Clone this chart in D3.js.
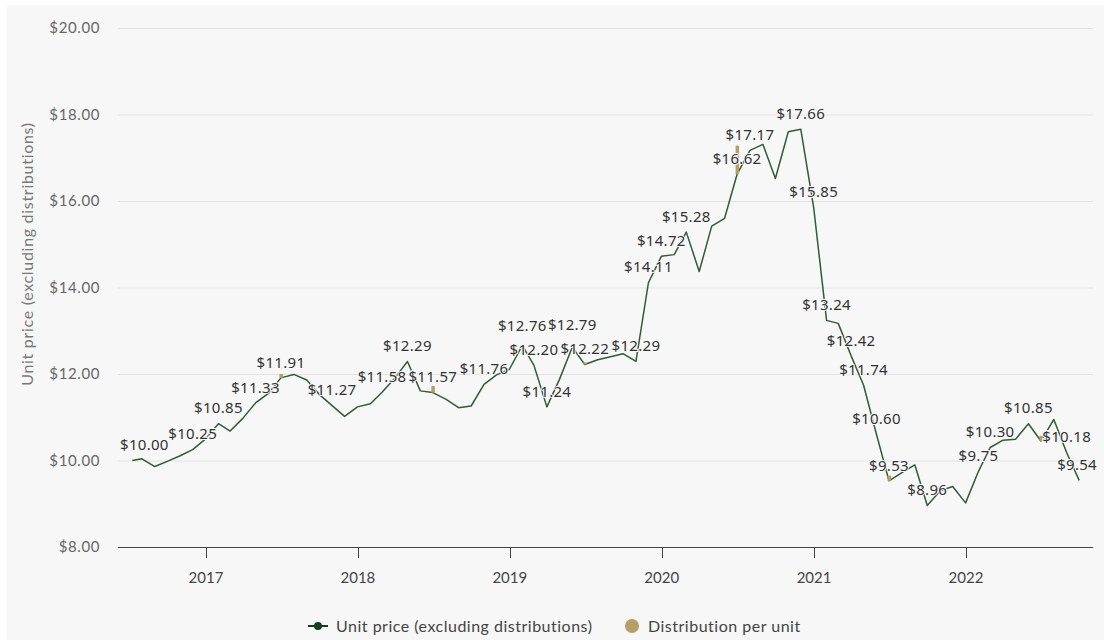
<!DOCTYPE html>
<html>
<head>
<meta charset="utf-8">
<script src="https://cdn.jsdelivr.net/npm/d3@7/dist/d3.min.js"></script>
<style>
  body { margin: 0; background: #fff; }
  svg { display: block; }
</style>
</head>
<body>
<div id="chart"></div>
<script>
// unit price, month end (first point is the inception date)
var priceDates = ["2016-07-08","2016-07-31","2016-08-31","2016-09-30","2016-10-31","2016-11-30","2016-12-31",
  "2017-01-31","2017-02-28","2017-03-31","2017-04-30","2017-05-31","2017-06-30","2017-07-31","2017-08-31","2017-09-30","2017-10-31","2017-11-30","2017-12-31",
  "2018-01-31","2018-02-28","2018-03-31","2018-04-30","2018-05-31","2018-06-30","2018-07-31","2018-08-31","2018-09-30","2018-10-31","2018-11-30","2018-12-31",
  "2019-01-31","2019-02-28","2019-03-31","2019-04-30","2019-05-31","2019-06-30","2019-07-31","2019-08-31","2019-09-30","2019-10-31","2019-11-30","2019-12-31",
  "2020-01-31","2020-02-29","2020-03-31","2020-04-30","2020-05-31","2020-06-30","2020-07-31","2020-08-31","2020-09-30","2020-10-31","2020-11-30","2020-12-31",
  "2021-01-31","2021-02-28","2021-03-31","2021-04-30","2021-05-31","2021-06-30","2021-07-31","2021-08-31","2021-09-30","2021-10-31","2021-11-30","2021-12-31",
  "2022-01-31","2022-02-28","2022-03-31","2022-04-30","2022-05-31","2022-06-30","2022-07-31","2022-08-31","2022-09-30"];
var priceValues = [10.00,10.04,9.86,9.98,10.11,10.25,10.50,
  10.85,10.68,10.98,11.33,11.55,11.91,11.99,11.86,11.53,11.27,11.02,11.24,
  11.31,11.58,11.91,12.29,11.61,11.57,11.42,11.22,11.26,11.76,11.98,12.11,
  12.66,12.20,11.24,11.87,12.62,12.22,12.33,12.40,12.47,12.29,14.11,14.72,
  14.76,15.28,14.37,15.42,15.60,16.62,17.17,17.31,16.52,17.60,17.66,15.85,
  13.24,13.17,12.42,11.74,10.60,9.53,9.72,9.90,8.96,9.30,9.40,9.02,
  9.75,10.30,10.47,10.49,10.85,10.45,10.95,10.18,9.54];

// distribution per unit (drawn on top of the price)
var distDates = ["2017-06-30","2018-06-30","2019-06-30","2020-06-30","2021-06-30","2022-06-30"];
var distValues = [0.09,0.15,0.05,0.66,0.12,0.12];

// labelled points
var labelDates = ["2016-07-08","2016-11-30","2017-01-31","2017-04-30","2017-06-30","2017-10-31","2018-02-28","2018-04-30","2018-06-30","2018-10-31",
  "2019-01-31","2019-02-28","2019-03-31","2019-05-31","2019-06-30","2019-10-31","2019-11-30","2019-12-31","2020-02-29","2020-06-30","2020-07-31",
  "2020-11-30","2020-12-31","2021-01-31","2021-03-31","2021-04-30","2021-05-31","2021-06-30","2021-09-30","2022-01-31","2022-02-28","2022-05-31","2022-08-31","2022-09-30"];
var labelValues = [10.00,10.25,10.85,11.33,11.91,11.27,11.58,12.29,11.57,11.76,
  12.76,12.20,11.24,12.79,12.22,12.29,14.11,14.72,15.28,16.62,17.17,
  17.66,15.85,13.24,12.42,11.74,10.60,9.53,8.96,9.75,10.30,10.85,10.18,9.54];

var yTicks = [8,10,12,14,16,18,20];
var yearTicks = [2017,2018,2019,2020,2021,2022];

var W = 1104, H = 640;
var plot = {left: 118, right: 1093, top: 28, bottom: 547};
var parse = d3.timeParse("%Y-%m-%d");

var svg = d3.select("#chart").append("svg")
    .attr("width", W)
    .attr("height", H);

svg.append("rect")
    .attr("x", 7).attr("y", 5)
    .attr("width", W - 7).attr("height", H - 5)
    .attr("fill", "#f7f7f7");

var x = d3.scaleTime()
    .domain([new Date(2017, 0, 1), new Date(2022, 0, 1)])
    .range([206, 966]);
var y = d3.scaleLinear()
    .domain([8, 20])
    .range([plot.bottom, plot.top]);

var axisFont = "Lato, 'Open Sans', sans-serif";

// grid + y labels
svg.append("g")
  .selectAll("line")
  .data(yTicks.filter(function(d) { return d > 8; }))
  .enter().append("line")
    .attr("x1", plot.left).attr("x2", plot.right)
    .attr("y1", function(d) { return y(d) + 0.5; })
    .attr("y2", function(d) { return y(d) + 0.5; })
    .attr("stroke", "#e3e3e3");

svg.append("g")
  .selectAll("text")
  .data(yTicks)
  .enter().append("text")
    .attr("x", 100)
    .attr("y", function(d) { return y(d); })
    .attr("dy", "0.35em")
    .attr("text-anchor", "end")
    .style("font", "15px " + axisFont)
    .style("letter-spacing", "0.6px")
    .attr("fill", "#666")
    .text(function(d) { return "$" + d.toFixed(2); });

svg.append("text")
    .attr("transform", "translate(27," + 254 + ") rotate(-90)")
    .attr("text-anchor", "middle")
    .attr("dy", "0.35em")
    .style("font", "16px " + axisFont)
    .style("letter-spacing", "0.7px")
    .attr("fill", "#777")
    .text("Unit price (excluding distributions)");

// x axis
svg.append("line")
    .attr("x1", plot.left).attr("x2", plot.right)
    .attr("y1", plot.bottom + 0.5).attr("y2", plot.bottom + 0.5)
    .attr("stroke", "#444");

var xg = svg.append("g");
xg.selectAll("line")
  .data(yearTicks)
  .enter().append("line")
    .attr("x1", function(d) { return Math.round(x(new Date(d, 0, 1))) + 0.5; })
    .attr("x2", function(d) { return Math.round(x(new Date(d, 0, 1))) + 0.5; })
    .attr("y1", plot.bottom).attr("y2", plot.bottom + 11)
    .attr("stroke", "#444");
xg.selectAll("text")
  .data(yearTicks)
  .enter().append("text")
    .attr("x", function(d) { return x(new Date(d, 0, 1)); })
    .attr("y", 578)
    .attr("dy", "0.35em")
    .attr("text-anchor", "middle")
    .style("font", "15px " + axisFont)
    .attr("fill", "#444")
    .text(function(d) { return d; });

// price line
var pts = priceDates.map(function(d, i) { return [parse(d), priceValues[i]]; });
var line = d3.line()
    .x(function(d) { return x(d[0]); })
    .y(function(d) { return y(d[1]); });

svg.append("path")
    .datum(pts)
    .attr("d", line)
    .attr("fill", "none")
    .attr("stroke", "#2e5d33")
    .attr("stroke-width", 1.5)
    .attr("stroke-linejoin", "round");

// distribution bars sit on the price of that month
svg.append("g")
  .selectAll("rect")
  .data(distDates)
  .enter().append("rect")
    .attr("x", function(d) { return x(parse(d)) - 1.5; })
    .attr("y", function(d, i) {
      var p = priceValues[priceDates.indexOf(d)];
      return y(p + distValues[i]);
    })
    .attr("width", 3.5)
    .attr("height", function(d, i) {
      var p = priceValues[priceDates.indexOf(d)];
      return y(p) - y(p + distValues[i]);
    })
    .attr("fill", "#b59e67");

// data labels, kept inside the plot
var lab = svg.append("g")
  .selectAll("text")
  .data(labelDates)
  .enter().append("text")
    .attr("x", function(d) { return x(parse(d)); })
    .attr("y", function(d, i) { return y(labelValues[i]) - 15.5; })
    .attr("dy", "0.35em")
    .attr("text-anchor", "middle")
    .style("font", "15px 'Noto Sans', sans-serif")
    .style("letter-spacing", "0.3px")
    .attr("fill", "#333")
    .attr("stroke", "#f7f7f7")
    .attr("stroke-width", 2)
    .attr("paint-order", "stroke")
    .text(function(d, i) { return "$" + labelValues[i].toFixed(2); });

lab.each(function() {
  var t = d3.select(this);
  var w = this.getComputedTextLength();
  var cx = +t.attr("x");
  if (cx - w / 2 < plot.left + 2) t.attr("x", plot.left + 2 + w / 2);
  if (cx + w / 2 > plot.right + 4) t.attr("x", plot.right + 4 - w / 2);
});

// legend
var lg = svg.append("g").attr("transform", "translate(0,626)");
lg.append("line")
    .attr("x1", 308).attr("x2", 328)
    .attr("stroke", "#123f1c").attr("stroke-width", 2);
lg.append("circle")
    .attr("cx", 318).attr("r", 4)
    .attr("fill", "#123f1c");
lg.append("text")
    .attr("x", 336).attr("dy", "0.35em")
    .style("font", "16px " + axisFont)
    .style("letter-spacing", "0.5px")
    .attr("fill", "#444")
    .text("Unit price (excluding distributions)");
lg.append("circle")
    .attr("cx", 632).attr("r", 7)
    .attr("fill", "#b59e67");
lg.append("text")
    .attr("x", 648).attr("dy", "0.35em")
    .style("font", "16px " + axisFont)
    .style("letter-spacing", "0.5px")
    .attr("fill", "#444")
    .text("Distribution per unit");
</script>
</body>
</html>
